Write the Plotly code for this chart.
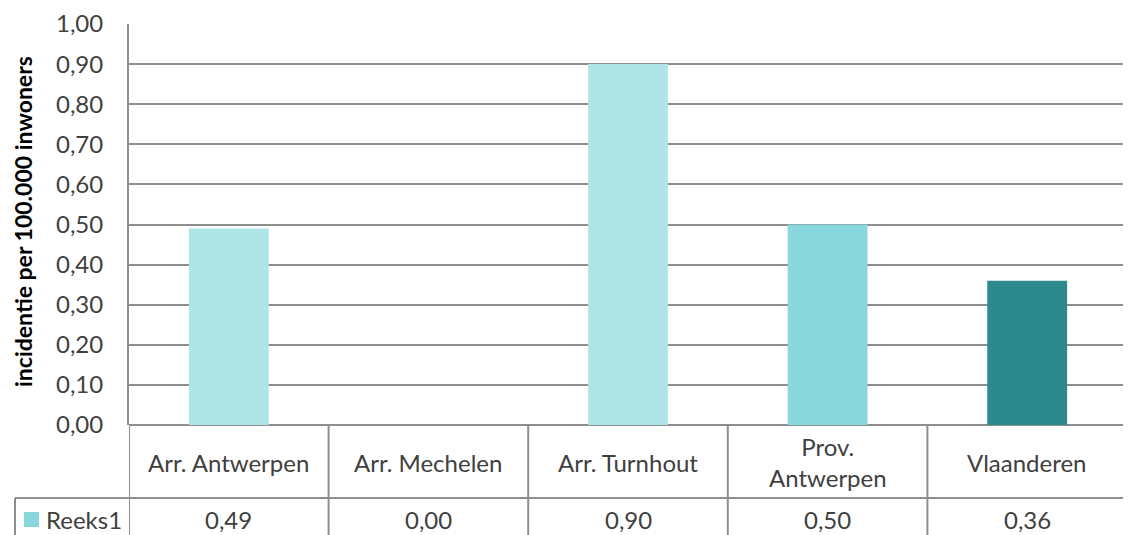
import plotly.graph_objects as go

categories = ["Arr. Antwerpen", "Arr. Mechelen", "Arr. Turnhout", "Prov. Antwerpen", "Vlaanderen"]
header_labels = ["Arr. Antwerpen", "Arr. Mechelen", "Arr. Turnhout", "Prov.<br>Antwerpen", "Vlaanderen"]
values = [0.49, 0.00, 0.90, 0.50, 0.36]
value_labels = ["0,49", "0,00", "0,90", "0,50", "0,36"]
bar_colors = ["#AFE5E6", "#AFE5E6", "#AFE5E6", "#87D7DC", "#2D8A8C"]
series_name = "Reeks1"
series_color = "#87D7DC"
y_title = "incidentie per 100.000 inwoners"
y_ticks = [0, 0.1, 0.2, 0.3, 0.4, 0.5, 0.6, 0.7, 0.8, 0.9, 1.0]
y_ticktext = ["0,00", "0,10", "0,20", "0,30", "0,40", "0,50", "0,60", "0,70", "0,80", "0,90", "1,00"]

# page body has an 8px margin; the figure fills the rest of the window
OFF = 8
W, H = 1131 - OFF, 535 - OFF
FONT = "Lato"
TXT = "#404040"
LINE = "#8E8E8E"
FS = 24

def px_x(p):
    return (p - OFF) / W

def px_y(p):
    return 1 - (p - OFF) / H

plot_left, plot_right = 129, 1127
plot_top, plot_bottom = 24, 425
row_line = 498
legend_left = 15

fig = go.Figure()
fig.add_trace(go.Bar(
    x=categories, y=values, marker_color=bar_colors, marker_line_width=0,
    name=series_name, showlegend=False, hoverinfo="x+y",
))

shapes = []
annotations = []
n = len(categories)
for i in range(n + 1):
    shapes.append(dict(type="line", xref="x", yref="paper", x0=i - 0.5, x1=i - 0.5,
                       y0=px_y(plot_bottom), y1=-0.02, line=dict(color=LINE, width=2)))
shapes.append(dict(type="line", xref="paper", yref="paper", x0=px_x(legend_left), x1=px_x(plot_right + 1),
                   y0=px_y(row_line), y1=px_y(row_line), line=dict(color=LINE, width=2)))
shapes.append(dict(type="line", xref="paper", yref="paper", x0=px_x(legend_left), x1=px_x(legend_left),
                   y0=px_y(row_line), y1=-0.02, line=dict(color=LINE, width=2)))
shapes.append(dict(type="rect", xref="paper", yref="paper", x0=px_x(24), x1=px_x(39),
                   y0=px_y(527), y1=px_y(512), fillcolor=series_color, line=dict(width=0)))

for cat, lab, val in zip(categories, header_labels, value_labels):
    annotations.append(dict(xref="x", yref="paper", x=cat, y=px_y(462), text=lab, showarrow=False,
                            font=dict(family=FONT, size=FS, color=TXT), xanchor="center", yanchor="middle"))
    annotations.append(dict(xref="x", yref="paper", x=cat, y=px_y(519), text=val, showarrow=False,
                            font=dict(family=FONT, size=FS, color=TXT), xanchor="center", yanchor="middle"))

annotations.append(dict(xref="paper", yref="paper", x=px_x(44), y=px_y(519), text=series_name, showarrow=False,
                        font=dict(family=FONT, size=FS, color=TXT), xanchor="left", yanchor="middle"))
annotations.append(dict(xref="paper", yref="paper", x=px_x(23), y=px_y(222), text="<b>" + y_title + "</b>",
                        showarrow=False, textangle=-90, borderpad=0,
                        font=dict(family=FONT, size=23, color="#000000"), xanchor="center", yanchor="middle"))

fig.update_layout(
    width=W, height=H,
    margin=dict(l=0, r=0, t=0, b=0, autoexpand=False),
    paper_bgcolor="white", plot_bgcolor="white",
    bargap=0.6,
    shapes=shapes, annotations=annotations,
    font=dict(family=FONT, color=TXT),
    xaxis=dict(domain=[px_x(plot_left), px_x(plot_right)], range=[-0.5, n - 0.5], automargin=False,
               showticklabels=False, showgrid=False, zeroline=False, showline=False, ticks=""),
    yaxis=dict(domain=[px_y(plot_bottom), px_y(plot_top)], range=[0, 1.0], automargin=False,
               tickvals=y_ticks, ticktext=y_ticktext, tickfont=dict(family=FONT, size=FS, color=TXT),
               showgrid=True, gridcolor=LINE, gridwidth=2, zeroline=True, zerolinecolor=LINE, zerolinewidth=2,
               showline=True, linecolor=LINE, linewidth=2, ticks="", ticklabelstandoff=19),
)

fig.write_html("out.html")
